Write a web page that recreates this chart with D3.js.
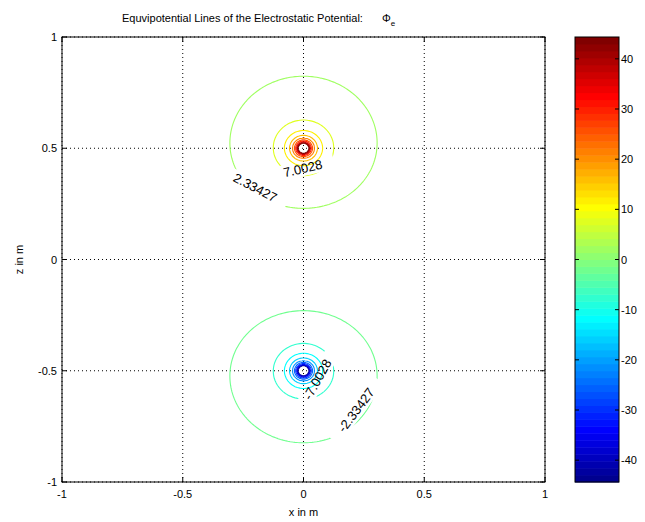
<!DOCTYPE html>
<html>
<head>
<meta charset="utf-8">
<script src="https://cdn.jsdelivr.net/npm/d3@7"></script>
<style>
  body { margin: 0; background: #fff; }
  svg { display: block; font-family: "Liberation Sans", Arial, sans-serif; }
</style>
</head>
<body>
<svg id="chart" width="645" height="522"></svg>
<script>
// point charges (x, z in m, relative charge)
const charges = [
  { x: 0, z: 0.5, q: 1 },
  { x: 0, z: -0.5, q: -1 }
];
// contour levels of the potential
const levels = [
  -44.35113, -39.68259, -35.01405, -30.34551, -25.67697, -21.00843, -16.33989, -11.67135, -7.00281, -2.33427,
  2.33427, 7.00281, 11.67135, 16.33989, 21.00843, 25.67697, 30.34551, 35.01405, 39.68259, 44.35113
];
const colorLimits = [-44.35113, 44.35113];
const xTicks = [-1, -0.5, 0, 0.5, 1];
const zTicks = [-1, -0.5, 0, 0.5, 1];
const xTickLabels = ["-1", "-0.5", "0", "0.5", "1"];
const zTickLabels = ["-1", "-0.5", "0", "0.5", "1"];
const cbarTicks = [-40, -30, -20, -10, 0, 10, 20, 30, 40];
// inline contour labels
const labels = [
  { level: 7.00281, text: "7.0028", x: -0.003, z: 0.409, angle: -13 },
  { level: 2.33427, text: "2.33427", x: -0.2, z: 0.323, angle: 27.5 },
  { level: -7.00281, text: "-7.0028", x: 0.058, z: -0.539, angle: -61 },
  { level: -2.33427, text: "-2.33427", x: 0.218, z: -0.677, angle: -53 }
];

const svg = d3.select("#chart");
const pL = 62, pR = 545, pT = 37, pB = 482;
const cbLeft = 575, cbRight = 619;

const x = d3.scaleLinear().domain([-1, 1]).range([pL, pR]);
const z = d3.scaleLinear().domain([-1, 1]).range([pB, pT]);

// jet colormap like matlab, 64 entries
function jet(m) {
  const n = Math.ceil(m / 4);
  const u = [];
  for (let i = 1; i <= n; i++) u.push(i / n);
  for (let i = 1; i < n; i++) u.push(1);
  for (let i = n; i >= 1; i--) u.push(i / n);
  const g0 = Math.ceil(n / 2) - (m % 4 === 1 ? 1 : 0);
  const cmap = d3.range(m).map(() => [0, 0, 0]);
  u.forEach((v, k) => {
    const g = g0 + k + 1, r = g + n, b = g - n;
    if (r >= 1 && r <= m) cmap[r - 1][0] = v;
    if (g >= 1 && g <= m) cmap[g - 1][1] = v;
    if (b >= 1 && b <= m) cmap[b - 1][2] = v;
  });
  return cmap.map((c) => d3.rgb(c[0] * 255, c[1] * 255, c[2] * 255).formatHex());
}
const jetColors = jet(64);
const color = d3.scaleQuantize().domain(colorLimits).range(jetColors);

// potential on a grid
const n = 200, step = 2 / n;
const phi = new Float64Array(n * n);
for (let j = 0; j < n; j++) {
  for (let i = 0; i < n; i++) {
    const px = -1 + (i + 0.5) * step, pz = -1 + (j + 0.5) * step;
    let v = 0;
    charges.forEach((c) => {
      v += c.q / Math.hypot(px - c.x, pz - c.z);
    });
    phi[i + j * n] = v;
  }
}
const negPhi = phi.map((v) => -v);

const gridToPx = d3.geoTransform({
  point: function (cx, cy) {
    this.stream.point(x(-1 + cx * step), z(-1 + cy * step));
  }
});
const path = d3.geoPath(gridToPx);
const contourGen = d3.contours().size([n, n]);

// grid lines (dotted)
const grid = svg.append("g");
grid.selectAll(".gx")
  .data(xTicks)
  .enter()
  .append("line")
  .attr("x1", (d) => x(d)).attr("x2", (d) => x(d))
  .attr("y1", pT).attr("y2", pB)
  .attr("stroke", "#000")
  .attr("stroke-width", 1)
  .attr("stroke-dasharray", "1,3");
grid.selectAll(".gz")
  .data(zTicks)
  .enter()
  .append("line")
  .attr("y1", (d) => z(d)).attr("y2", (d) => z(d))
  .attr("x1", pL).attr("x2", pR)
  .attr("stroke", "#000")
  .attr("stroke-width", 1)
  .attr("stroke-dasharray", "1,3");

// masks to break contour lines under labels
const defs = svg.append("defs");
const measure = svg.append("text").attr("font-size", 13);
labels.forEach((l, i) => {
  measure.text(l.text);
  const w = measure.node().getComputedTextLength() + 24;
  const h = 15;
  const m = defs.append("mask")
    .attr("id", "lab" + i)
    .attr("maskUnits", "userSpaceOnUse")
    .attr("x", 0).attr("y", 0).attr("width", 645).attr("height", 522);
  m.append("rect").attr("width", 645).attr("height", 522).attr("fill", "#fff");
  m.append("rect")
    .attr("x", -w / 2).attr("y", -h / 2)
    .attr("width", w).attr("height", h)
    .attr("fill", "#000")
    .attr("transform", `translate(${x(l.x)},${z(l.z)}) rotate(${l.angle})`);
});
measure.remove();

// contour lines
const lines = svg.append("g");
levels.forEach((lev) => {
  const geom = lev > 0 ? contourGen.contour(phi, lev) : contourGen.contour(negPhi, -lev);
  const li = labels.findIndex((l) => l.level === lev);
  const p = lines.append("path")
    .attr("d", path(geom))
    .attr("fill", "none")
    .attr("stroke", color(lev))
    .attr("stroke-width", 1.1);
  if (li >= 0) p.attr("mask", `url(#lab${li})`);
});

// labels
svg.append("g")
  .selectAll("text")
  .data(labels)
  .enter()
  .append("text")
  .attr("transform", (d) => `translate(${x(d.x)},${z(d.z)}) rotate(${d.angle})`)
  .attr("text-anchor", "middle")
  .attr("dominant-baseline", "central")
  .attr("font-size", 13)
  .attr("fill", "#000")
  .text((d) => d.text);

// box and ticks
svg.append("rect")
  .attr("x", pL).attr("y", pT)
  .attr("width", pR - pL).attr("height", pB - pT)
  .attr("fill", "none")
  .attr("stroke", "#000")
  .attr("stroke-width", 1);

const axes = svg.append("g").attr("font-size", 11);
xTicks.forEach((t, i) => {
  axes.append("line").attr("x1", x(t)).attr("x2", x(t)).attr("y1", pB).attr("y2", pB - 5).attr("stroke", "#000");
  axes.append("line").attr("x1", x(t)).attr("x2", x(t)).attr("y1", pT).attr("y2", pT + 5).attr("stroke", "#000");
  axes.append("text").attr("x", x(t)).attr("y", pB + 16).attr("text-anchor", "middle").text(xTickLabels[i]);
});
zTicks.forEach((t, i) => {
  axes.append("line").attr("y1", z(t)).attr("y2", z(t)).attr("x1", pL).attr("x2", pL + 5).attr("stroke", "#000");
  axes.append("line").attr("y1", z(t)).attr("y2", z(t)).attr("x1", pR).attr("x2", pR - 5).attr("stroke", "#000");
  axes.append("text").attr("x", pL - 5).attr("y", z(t) + 4).attr("text-anchor", "end").text(zTickLabels[i]);
});

axes.append("text")
  .attr("x", (pL + pR) / 2).attr("y", 516)
  .attr("text-anchor", "middle")
  .text("x in m");
axes.append("text")
  .attr("transform", `translate(23,${(pT + pB) / 2}) rotate(-90)`)
  .attr("text-anchor", "middle")
  .text("z in m");

// title
const title = svg.append("text")
  .attr("x", 122).attr("y", 22)
  .attr("font-size", 11);
title.append("tspan").text("Equvipotential Lines of the Electrostatic Potential:");
title.append("tspan").attr("dx", 19).text("Φ");
title.append("tspan").attr("dy", 4).attr("font-size", 8).text("e");

// colorbar
const cz = d3.scaleLinear().domain(colorLimits).range([pB, pT]);
const bandW = (colorLimits[1] - colorLimits[0]) / jetColors.length;
svg.append("g")
  .selectAll("rect")
  .data(jetColors)
  .enter()
  .append("rect")
  .attr("x", cbLeft)
  .attr("width", cbRight - cbLeft)
  .attr("y", (d, i) => cz(colorLimits[0] + (i + 1) * bandW))
  .attr("height", (d, i) => cz(colorLimits[0] + i * bandW) - cz(colorLimits[0] + (i + 1) * bandW) + 0.5)
  .attr("fill", (d) => d);
svg.append("rect")
  .attr("x", cbLeft).attr("y", pT)
  .attr("width", cbRight - cbLeft).attr("height", pB - pT)
  .attr("fill", "none").attr("stroke", "#000");
const cb = svg.append("g").attr("font-size", 11);
cbarTicks.forEach((t) => {
  cb.append("line").attr("x1", cbLeft).attr("x2", cbLeft + 4).attr("y1", cz(t)).attr("y2", cz(t)).attr("stroke", "#000");
  cb.append("line").attr("x1", cbRight).attr("x2", cbRight - 4).attr("y1", cz(t)).attr("y2", cz(t)).attr("stroke", "#000");
  cb.append("text").attr("x", cbRight + 2).attr("y", cz(t) + 4).text(t);
});
</script>
</body>
</html>
